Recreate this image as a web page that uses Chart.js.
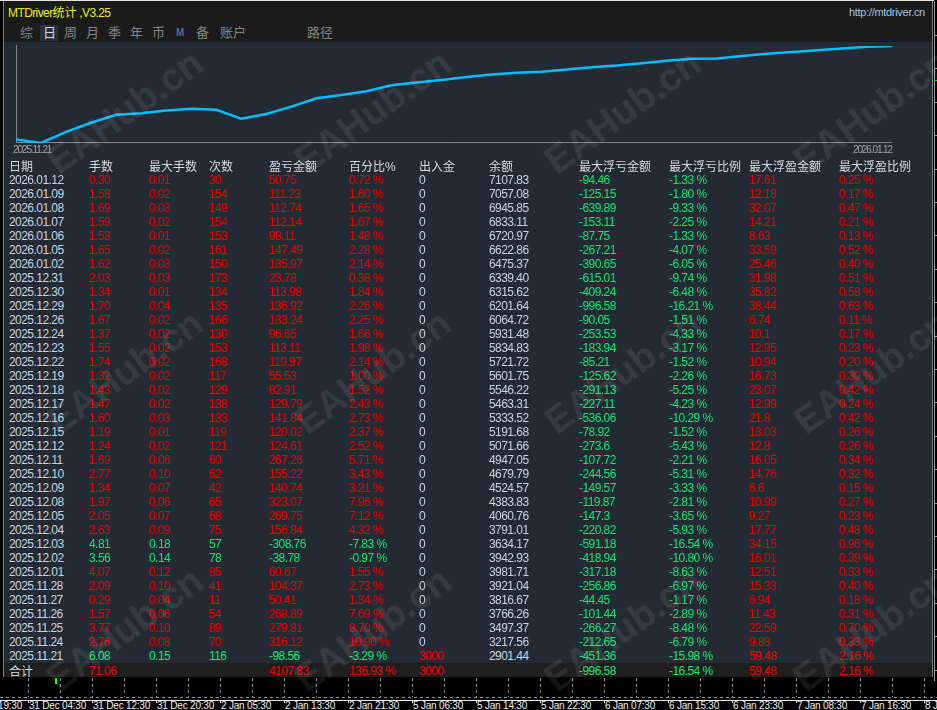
<!DOCTYPE html>
<html>
<head>
<meta charset="utf-8">
<script src="https://cdn.jsdelivr.net/npm/chart.js@4.4.1/dist/chart.umd.min.js"></script>
<style>
html, body { margin: 0; padding: 0; width: 937px; height: 710px; overflow: hidden; background: #000; }
body { position: relative; font-family: "Liberation Sans", Arial, "Noto Sans CJK SC", sans-serif; }
.abs { position: absolute; white-space: nowrap; }
.num { font-size: 12px; letter-spacing: -0.55px; line-height: 14px; height: 14px; }
.cjk { font-family: "Noto Sans CJK SC", sans-serif; font-size: 12px; line-height: 14px; height: 14px; }
.tab { font-family: "Noto Sans CJK SC", sans-serif; font-size: 13px; color: #858585; line-height: 16px; }
.wm { position: absolute; font-weight: bold; font-size: 38px; color: rgba(255,255,255,0.08); transform: translate(-50%,-50%) rotate(-36deg); white-space: nowrap; pointer-events: none; }
</style>
</head>
<body>
<div class="abs" style="left:0;top:0;width:934px;height:1px;background:#e6e6e6"></div>
<div class="abs" id="panel" style="left:3px;top:1px;width:930px;height:676px;background:#242a33;border-left:1px solid #777b82;border-right:1px solid #777b82;border-bottom:1px solid #777b82;box-sizing:border-box"></div>
<div class="abs" style="left:4px;top:1px;width:928px;height:41px;background:#1b1b1b"></div>
<div class="abs" style="left:8px;top:4px;font-size:12px;letter-spacing:-0.6px;color:#eeee00;line-height:16px">MTDriver<span style="font-family:'Noto Sans CJK SC';letter-spacing:0">统计</span> ,V3.25</div>
<div class="abs" style="left:849px;top:5px;font-size:11px;letter-spacing:-0.3px;color:#9ec4ea;line-height:14px">http://mtdriver.cn</div>
<div class="abs" style="left:40px;top:25px;width:18px;height:16px;background:#2a313b"></div>
<div id="tabs"></div>
<div class="abs" style="left:10px;top:42px;width:890px;height:120px">
  <canvas id="curve" width="890" height="120"></canvas>
</div>
<div id="table"></div>
<div class="abs" style="left:4px;top:663px;width:928px;height:14px;background:#1e1e1e"></div>
<div id="totals"></div>
<div id="bottom"></div>
<div class="abs" style="left:934px;top:1px;width:1px;height:680px;background:#9a9a9a"></div>
<div id="rticks"></div>
<div id="wms"></div>

<script>
// daily stats, newest first (as listed in the table)
const dates = ['2026.01.12','2026.01.09','2026.01.08','2026.01.07','2026.01.06','2026.01.05','2026.01.02','2025.12.31','2025.12.30','2025.12.29','2025.12.26','2025.12.24','2025.12.23','2025.12.22','2025.12.19','2025.12.18','2025.12.17','2025.12.16','2025.12.15','2025.12.12','2025.12.11','2025.12.10','2025.12.09','2025.12.08','2025.12.05','2025.12.04','2025.12.03','2025.12.02','2025.12.01','2025.11.28','2025.11.27','2025.11.26','2025.11.25','2025.11.24','2025.11.21'];
const lots = [0.30,1.58,1.69,1.59,1.53,1.65,1.62,2.03,1.34,1.70,1.67,1.37,1.55,1.74,1.32,1.43,1.47,1.60,1.19,1.24,1.69,2.77,1.34,1.97,2.05,2.63,4.81,3.56,4.07,2.09,0.29,1.57,3.77,2.76,6.08];
const maxLots = [0.01,0.02,0.03,0.02,0.01,0.02,0.03,0.03,0.01,0.04,0.02,0.02,0.02,0.02,0.02,0.02,0.02,0.03,0.01,0.02,0.06,0.10,0.07,0.06,0.07,0.09,0.18,0.14,0.12,0.10,0.04,0.06,0.10,0.08,0.15];
const trades = [30,154,149,154,153,161,150,173,134,135,166,130,153,168,117,129,138,133,119,121,60,62,42,65,68,75,57,78,85,41,11,54,89,70,116];
const profit = [50.75,111.23,112.74,112.14,98.11,147.49,135.97,23.78,113.98,136.92,133.24,96.65,113.11,119.97,55.53,82.91,129.79,141.84,120.02,124.61,267.26,155.22,140.74,323.07,269.75,156.84,-308.76,-38.78,60.67,104.37,50.41,268.89,279.81,316.12,-98.56];
const profitPct = [0.72,1.60,1.65,1.67,1.48,2.28,2.14,0.38,1.84,2.26,2.25,1.66,1.98,2.14,1.00,1.52,2.43,2.73,2.37,2.52,5.71,3.43,3.21,7.96,7.12,4.32,-7.83,-0.97,1.55,2.73,1.34,7.69,8.70,10.90,-3.29];
const deposit = [0,0,0,0,0,0,0,0,0,0,0,0,0,0,0,0,0,0,0,0,0,0,0,0,0,0,0,0,0,0,0,0,0,0,3000];
const balance = [7107.83,7057.08,6945.85,6833.11,6720.97,6622.86,6475.37,6339.40,6315.62,6201.64,6064.72,5931.48,5834.83,5721.72,5601.75,5546.22,5463.31,5333.52,5191.68,5071.66,4947.05,4679.79,4524.57,4383.83,4060.76,3791.01,3634.17,3942.93,3981.71,3921.04,3816.67,3766.26,3497.37,3217.56,2901.44];
const floatLoss = [-94.46,-125.15,-639.89,-153.11,-87.75,-267.21,-390.65,-615.01,-409.24,-996.58,-90.05,-253.53,-183.94,-85.21,-125.62,-291.13,-227.11,-536.06,-78.92,-273.6,-107.72,-244.56,-149.57,-119.87,-147.3,-220.82,-591.18,-418.94,-317.18,-256.86,-44.45,-101.44,-266.27,-212.65,-451.36];
const floatLossPct = [-1.33,-1.80,-9.33,-2.25,-1.33,-4.07,-6.05,-9.74,-6.48,-16.21,-1.51,-4.33,-3.17,-1.52,-2.26,-5.25,-4.23,-10.29,-1.52,-5.43,-2.21,-5.31,-3.33,-2.81,-3.65,-5.93,-16.54,-10.80,-8.63,-6.97,-1.17,-2.89,-8.48,-6.79,-15.98];
const floatProfit = [17.61,12.18,32.07,14.21,8.63,33.59,25.46,31.98,35.82,38.44,6.74,10.1,12.95,10.94,16.73,23.07,12.99,21.8,13.03,12.8,16.05,14.76,6.6,10.99,9.27,17.77,34.15,16.01,12.51,15.33,6.94,11.43,22.59,9.88,59.48];
const floatProfitPct = [0.25,0.17,0.47,0.21,0.13,0.52,0.40,0.51,0.58,0.63,0.11,0.17,0.23,0.20,0.30,0.42,0.24,0.42,0.26,0.26,0.34,0.32,0.15,0.27,0.23,0.48,0.96,0.39,0.33,0.40,0.18,0.31,0.70,0.33,2.16];
const totals = ['合计','71.06','','','4107.83','136.93 %','3000','','-996.58','-16.54 %','59.48','2.16 %'];

const headers = ['日期','手数','最大手数','次数','盈亏金额','百分比%','出入金','余额','最大浮亏金额','最大浮亏比例','最大浮盈金额','最大浮盈比例'];
const tabs = ['综','日','周','月','季','年','币','M','备','账户','路径'];
const timeTicks = ['30 Dec 19:30','31 Dec 04:30','31 Dec 12:30','31 Dec 20:30','2 Jan 05:30','2 Jan 13:30','2 Jan 21:30','5 Jan 06:30','5 Jan 14:30','5 Jan 22:30','6 Jan 07:30','6 Jan 15:30','6 Jan 23:30','7 Jan 08:30','7 Jan 16:30','8 Jan 01:30'];

// balance curve, oldest first, starting from the deposit
const curve = [deposit[deposit.length - 1]].concat(balance.slice().reverse());
const curveLabels = [''].concat(dates.slice().reverse());
const axisLabels = [dates[dates.length - 1], dates[0]];

const RED = '#f20000', GREEN = '#12e672', LIGHT = '#c8d3e2', HEAD = '#d6dae2';
const colX = [9, 89, 149, 209, 269, 349, 419, 489, 579, 669, 749, 839];

function put(parent, x, y, text, color, cls) {
  const d = document.createElement('div');
  d.className = 'abs ' + cls;
  d.style.left = x + 'px';
  d.style.top = y + 'px';
  d.style.color = color;
  d.textContent = text;
  parent.appendChild(d);
  return d;
}

// tabs
const tabX = [20, 43, 64, 86, 108, 130, 152, 176, 196, 220, 307];
const tabBox = document.getElementById('tabs');
tabs.forEach((t, i) => {
  const d = put(tabBox, tabX[i], 24, t, i === 1 ? '#d2d8e0' : '#858585', 'tab');
  if (t === 'M') { d.style.fontFamily = 'Liberation Sans'; d.style.fontSize = '10px'; d.style.fontWeight = 'bold'; d.style.color = '#56698a'; d.style.top = '25px'; }
});

// table
const tb = document.getElementById('table');
headers.forEach((h, i) => {
  const d = put(tb, colX[i], 159, h, HEAD, 'cjk');
  if (h === '百分比%') d.innerHTML = '百分比<span style="font-family:Liberation Sans;letter-spacing:-0.5px">%</span>';
});
const pct = v => v.toFixed(2) + ' %';
dates.forEach((dt, r) => {
  const y = 173 + r * 14;
  const c = profit[r] < 0 ? GREEN : RED;
  const cells = [
    [dt, LIGHT], [lots[r].toFixed(2), c], [maxLots[r].toFixed(2), c], [String(trades[r]), c],
    [profit[r].toFixed(2), c], [pct(profitPct[r]), c], [String(deposit[r]), deposit[r] > 0 ? RED : LIGHT],
    [balance[r].toFixed(2), LIGHT], [String(floatLoss[r]), GREEN], [pct(floatLossPct[r]), GREEN],
    [String(floatProfit[r]), RED], [pct(floatProfitPct[r]), RED]
  ];
  cells.forEach((cell, i) => put(tb, colX[i], y, cell[0], cell[1], 'num'));
});
const tt = document.getElementById('totals');
totals.forEach((t, i) => {
  if (!t) return;
  if (i === 0) { put(tt, colX[i], 664, t, HEAD, 'cjk'); return; }
  put(tt, colX[i], 664, t, (i === 8 || i === 9) ? GREEN : RED, 'num');
});

// bottom strip of the terminal
const bt = document.getElementById('bottom');
let html = '<div class="abs" style="left:0;top:678px;width:937px;height:32px;background:#000"></div>';
for (let k = 0; k < 29; k++) {
  html += '<div class="abs" style="left:' + (28 + 32 * k) + 'px;top:678px;width:1px;height:19px;background:repeating-linear-gradient(#8c929c 0 3px, transparent 3px 6px)"></div>';
}
html += '<div class="abs" style="left:0;top:697px;width:937px;height:1px;background:repeating-linear-gradient(90deg,#8c929c 0 3px, transparent 3px 6px)"></div>';
html += '<div class="abs" style="left:0;top:700px;width:937px;height:1px;background:#e8e8e8"></div>';
html += '<div class="abs" style="left:55px;top:678px;width:2px;height:6px;background:#00ff00"></div>';
bt.innerHTML = html;
timeTicks.forEach((t, k) => {
  const x = -36 + 64 * k;
  const tk = document.createElement('div');
  tk.className = 'abs';
  tk.style.cssText = 'left:' + x + 'px;top:700px;width:1px;height:3px;background:#e8e8e8';
  bt.appendChild(tk);
  const d = put(bt, x + 1, 701, t, '#f0f0f0', '');
  d.style.fontSize = '10px';
  d.style.lineHeight = '10px';
  d.style.letterSpacing = '-0.2px';
});

// right price-scale ticks
const rt = document.getElementById('rticks');
for (let y = 35; y < 680; y += 33.4) {
  const d = document.createElement('div');
  d.className = 'abs';
  d.style.cssText = 'left:934px;top:' + Math.round(y) + 'px;width:3px;height:1px;background:#9a9a9a';
  rt.appendChild(d);
}
rt.innerHTML += '<div class="abs" style="left:934px;top:80px;width:3px;height:1px;background:#00d000"></div>';

// watermarks
const wm = document.getElementById('wms');
[112, 372, 630].forEach(y => [125, 373, 623, 872].forEach(x => {
  const d = document.createElement('div');
  d.className = 'wm';
  d.style.left = x + 'px';
  d.style.top = y + 'px';
  d.textContent = 'EAHub.cn';
  wm.appendChild(d);
}));

// axis lines and end dates, drawn under the curve
const axisPlugin = {
  id: 'mtAxis',
  beforeDatasetsDraw(chart) {
    const { ctx, chartArea: a } = chart;
    ctx.save();
    ctx.strokeStyle = '#83878d';
    ctx.lineWidth = 1;
    ctx.beginPath();
    ctx.moveTo(a.left + 0.5, a.top - 1);
    ctx.lineTo(a.left + 0.5, a.bottom - 0.5);
    ctx.lineTo(a.right, a.bottom - 0.5);
    ctx.stroke();
    ctx.fillStyle = '#9ba1aa';
    ctx.font = '10px "Liberation Sans", Arial';
    ctx.letterSpacing = '-1.1px';
    ctx.textBaseline = 'top';
    ctx.textAlign = 'left';
    ctx.fillText(axisLabels[0], a.left - 3, a.bottom + 2);
    ctx.textAlign = 'right';
    ctx.fillText(axisLabels[1], a.right, a.bottom + 2);
    ctx.restore();
  }
};

new Chart(document.getElementById('curve'), {
  type: 'line',
  data: {
    labels: curveLabels,
    datasets: [{
      data: curve,
      borderColor: '#00bfff',
      borderWidth: 2.5,
      pointRadius: 0,
      tension: 0,
      fill: false
    }]
  },
  options: {
    responsive: false,
    animation: false,
    events: [],
    layout: { padding: { left: 6, right: 8, top: 4, bottom: 19 } },
    plugins: { legend: { display: false }, tooltip: { enabled: false } },
    scales: {
      x: { display: false },
      y: { type: 'logarithmic', display: false, min: Math.min(...curve), max: Math.max(...curve) }
    }
  },
  plugins: [axisPlugin]
});
</script>
</body>
</html>
